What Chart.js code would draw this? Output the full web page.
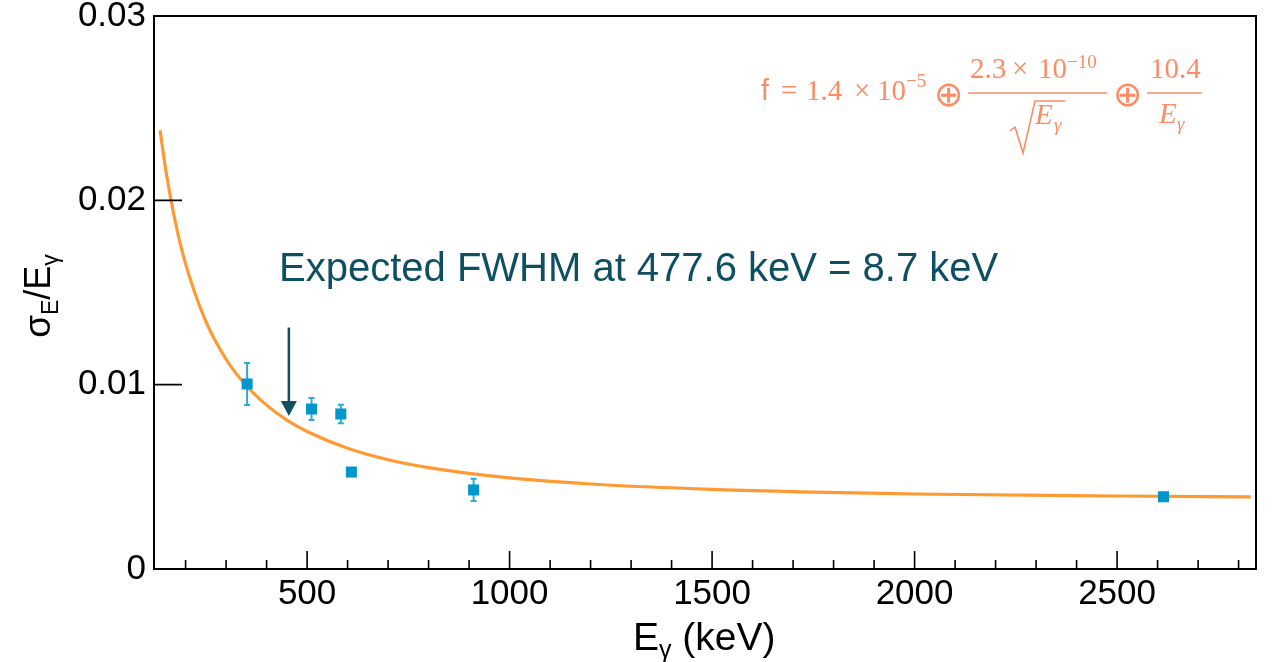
<!DOCTYPE html>
<html>
<head>
<meta charset="utf-8">
<script src="https://cdn.jsdelivr.net/npm/chart.js@4"></script>
<style>
  html, body { margin: 0; padding: 0; background: #fff; }
  #wrap { width: 1281px; height: 662px; }
</style>
</head>
<body>
<div id="wrap"><canvas id="chart"></canvas></div>
<script>
// measured peaks (keV) and relative resolution sigma_E / E
const energies = [351.9, 511, 583.2, 609.3, 911.2, 2614.5];
const resolution = [0.01004, 0.00868, 0.00841, 0.00526, 0.00429, 0.00392];
const resolutionErr = [0.00114, 0.0006, 0.0005, 0.0001, 0.0006, 0.0001];

// fitted curve
const fitEnergies = [137, 150, 175, 200, 250, 300, 350, 400, 450, 500, 600, 700, 800, 1000, 1200, 1500, 2000, 2500, 2830];
const fitValues = [0.0238, 0.0218, 0.0188, 0.01655, 0.01343, 0.01138, 0.00994, 0.00889, 0.00808, 0.00746, 0.00655, 0.00593, 0.0055, 0.00494, 0.00461, 0.00432, 0.00407, 0.00396, 0.00391];

const xTicks = [500, 1000, 1500, 2000, 2500];
const xMinorTicks = [200, 300, 400, 600, 700, 800, 900, 1100, 1200, 1300, 1400, 1600, 1700, 1800, 1900, 2100, 2200, 2300, 2400, 2600, 2700, 2800];
const yTicks = [0, 0.01, 0.02, 0.03];

// arrow marking the expected peak
const arrowEnergy = [455];
const arrowFrom = [0.0131];
const arrowTo = [0.0083];

const SANS = "'Liberation Sans', Arial, Helvetica, sans-serif";
const SERIF = "'Liberation Serif', 'Times New Roman', serif";
const TEAL = '#0f4f62';
const SALMON = '#fb8c64';

function put(ctx, font, text, x, y) {
  ctx.font = font;
  ctx.fillText(text, x, y);
}

const rootStyle = {
  id: 'rootStyle',
  beforeDatasetsDraw(chart) {
    const { ctx, scales: { x, y } } = chart;
    ctx.save();
    ctx.strokeStyle = '#33a6d8';
    ctx.lineWidth = 2;
    energies.forEach((e, i) => {
      const px = x.getPixelForValue(e);
      const top = y.getPixelForValue(resolution[i] + resolutionErr[i]);
      const bot = y.getPixelForValue(resolution[i] - resolutionErr[i]);
      ctx.beginPath();
      ctx.moveTo(px, top); ctx.lineTo(px, bot);
      ctx.moveTo(px - 3, top); ctx.lineTo(px + 3, top);
      ctx.moveTo(px - 3, bot); ctx.lineTo(px + 3, bot);
      ctx.stroke();
    });
    ctx.restore();
  },
  afterDraw(chart) {
    const { ctx, chartArea: a, scales: { x, y } } = chart;
    ctx.save();
    // frame
    ctx.strokeStyle = '#000';
    ctx.lineWidth = 2;
    ctx.strokeRect(a.left, a.top, a.right - a.left, a.bottom - a.top);
    // inward ticks
    ctx.lineWidth = 1.6;
    ctx.beginPath();
    xTicks.forEach(v => {
      const px = x.getPixelForValue(v);
      ctx.moveTo(px, a.bottom); ctx.lineTo(px, a.bottom - 18);
    });
    xMinorTicks.forEach(v => {
      const px = x.getPixelForValue(v);
      ctx.moveTo(px, a.bottom); ctx.lineTo(px, a.bottom - 9);
    });
    yTicks.forEach(v => {
      const py = y.getPixelForValue(v);
      ctx.moveTo(a.left, py); ctx.lineTo(a.left + 28, py);
    });
    ctx.stroke();

    // arrow
    ctx.strokeStyle = TEAL;
    ctx.fillStyle = TEAL;
    ctx.lineWidth = 2.5;
    const ax = x.getPixelForValue(arrowEnergy[0]);
    const ay1 = y.getPixelForValue(arrowFrom[0]);
    const ay2 = y.getPixelForValue(arrowTo[0]);
    ctx.beginPath();
    ctx.moveTo(ax, ay1); ctx.lineTo(ax, ay2 - 10);
    ctx.stroke();
    ctx.beginPath();
    ctx.moveTo(ax - 8, ay2 - 15); ctx.lineTo(ax + 8, ay2 - 15); ctx.lineTo(ax, ay2);
    ctx.closePath();
    ctx.fill();

    // annotation
    ctx.textBaseline = 'alphabetic';
    ctx.textAlign = 'left';
    put(ctx, '40px ' + SANS, 'Expected FWHM at 477.6 keV = 8.7 keV', 279, 281);

    // fit formula
    ctx.fillStyle = SALMON;
    ctx.strokeStyle = SALMON;
    const big = '29px ' + SERIF;
    const sup = '19px ' + SERIF;
    const oplus = "35px 'DejaVu Sans', sans-serif";
    put(ctx, '29px ' + SANS, 'f', 761, 100);
    put(ctx, big, '=', 781, 100);
    put(ctx, big, '1.4', 806, 100);
    put(ctx, big, '\u00d7', 854, 100);
    put(ctx, big, '10', 877, 100);
    put(ctx, sup, '\u22125', 906, 87);
    put(ctx, oplus, '\u2295', 934, 106);
    put(ctx, big, '2.3', 970, 78);
    put(ctx, big, '\u00d7', 1012, 78);
    put(ctx, big, '10', 1038, 78);
    put(ctx, sup, '\u221210', 1067, 68);
    put(ctx, oplus, '\u2295', 1113, 106);
    put(ctx, big, '10.4', 1150, 78);
    ctx.lineWidth = 1.6;
    ctx.beginPath();
    ctx.moveTo(968, 93); ctx.lineTo(1107, 93);
    ctx.moveTo(1147, 93); ctx.lineTo(1202, 93);
    // radical sign
    ctx.moveTo(1010, 131); ctx.lineTo(1015, 127); ctx.lineTo(1023, 153);
    ctx.lineTo(1035, 101); ctx.lineTo(1065, 101);
    ctx.stroke();
    put(ctx, 'italic 29px ' + SERIF, 'E', 1035, 124);
    put(ctx, 'italic 29px ' + SERIF, 'E', 1159, 123);
    put(ctx, 'italic 19px ' + SERIF, '\u03b3', 1054, 131);
    put(ctx, 'italic 19px ' + SERIF, '\u03b3', 1177, 130);

    // axis titles
    ctx.fillStyle = '#000';
    let cx = 633;
    const bx = 650;
    put(ctx, '39px ' + SANS, 'E', cx, bx);
    cx += ctx.measureText('E').width;
    put(ctx, '25px ' + SANS, '\u03b3', cx, bx + 8);
    cx += ctx.measureText('\u03b3').width;
    put(ctx, '39px ' + SANS, ' (keV)', cx, bx);

    ctx.translate(50, 296);
    ctx.rotate(-Math.PI / 2);
    const parts = [['\u03c3', 37, 0], ['E', 23, 8], ['/E', 36, 0], ['\u03b3', 23, 8]];
    let total = 0;
    parts.forEach(p => { ctx.font = p[1] + 'px ' + SANS; total += ctx.measureText(p[0]).width; });
    let px = -total / 2;
    parts.forEach(p => {
      put(ctx, p[1] + 'px ' + SANS, p[0], px, p[2]);
      px += ctx.measureText(p[0]).width;
    });
    ctx.restore();
  }
};

const ctx = document.getElementById('chart').getContext('2d');
const chart = new Chart(ctx, {
  type: 'scatter',
  data: {
    datasets: [
      {
        type: 'scatter',
        label: 'data',
        data: energies.map((e, i) => ({ x: e, y: resolution[i] })),
        pointStyle: 'rect',
        pointRadius: 7.8,
        backgroundColor: '#0098cc',
        borderWidth: 0,
        order: 1
      },
      {
        type: 'line',
        label: 'fit',
        data: fitEnergies.map((e, i) => ({ x: e, y: fitValues[i] })),
        borderColor: '#ff9a33',
        borderWidth: 3.2,
        pointRadius: 0,
        cubicInterpolationMode: 'monotone',
        fill: false,
        order: 2
      }
    ]
  },
  options: {
    responsive: true,
    maintainAspectRatio: false,
    animation: false,
    layout: { padding: { top: 16, right: 25, left: 0, bottom: 0 } },
    plugins: { legend: { display: false }, tooltip: { enabled: false } },
    scales: {
      x: {
        type: 'linear',
        min: 122,
        max: 2843,
        grid: { display: false, drawTicks: false },
        border: { display: false },
        ticks: {
          autoSkip: false,
          maxRotation: 0,
          padding: 4,
          color: '#000',
          font: { family: SANS, size: 35 },
          callback: v => String(v)
        },
        afterBuildTicks: s => { s.ticks = xTicks.map(v => ({ value: v })); },
        afterFit: s => { s.height = 93; s.paddingLeft = 0; s.paddingRight = 0; }
      },
      y: {
        min: 0,
        max: 0.03,
        grid: { display: false, drawTicks: false },
        border: { display: false },
        ticks: {
          autoSkip: false,
          padding: 8,
          color: '#000',
          font: { family: SANS, size: 35 },
          callback: v => (v === 0 ? '0' : v.toFixed(2))
        },
        afterBuildTicks: s => { s.ticks = yTicks.map(v => ({ value: v })); },
        afterFit: s => { s.width = 154; s.paddingTop = 0; s.paddingBottom = 0; }
      }
    }
  },
  plugins: [rootStyle]
});
</script>
</body>
</html>
